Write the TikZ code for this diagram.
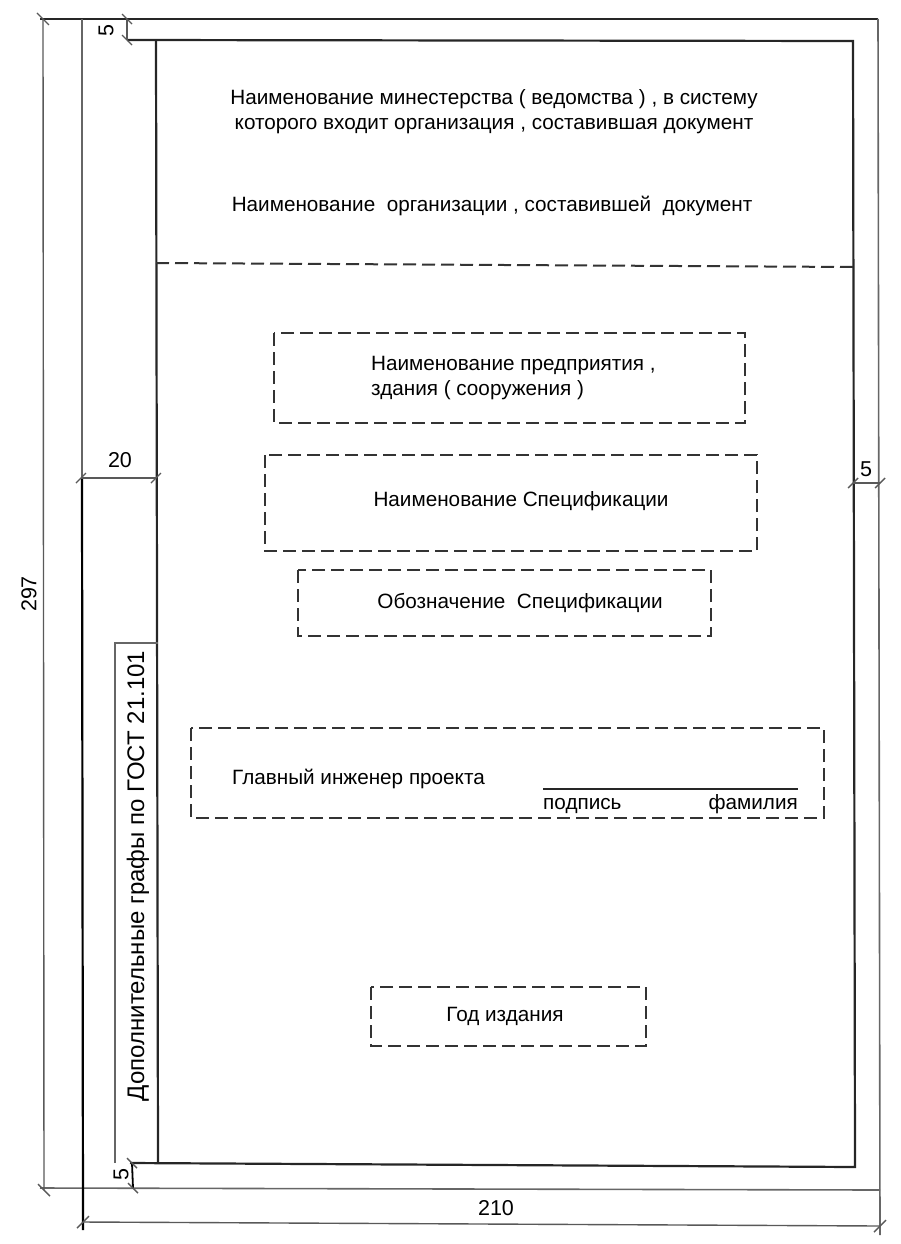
\documentclass[tikz,border=0pt]{standalone}
\usepackage{fontspec}
\setmainfont{Liberation Sans}
\begin{document}
\begin{tikzpicture}[x=1pt,y=-1pt,
  frame/.style={line width=2.2pt,black!85},
  thin/.style={line width=1.6pt,black!60},
  dim/.style={line width=1.4pt,black!65},
  dbox/.style={line width=2pt,black!80,dash pattern=on 13pt off 6pt},
  txt/.style={font=\fontsize{20.7}{25}\selectfont,inner sep=0pt},
  dimtxt/.style={font=\fontsize{21.5}{22}\selectfont,inner sep=0pt}]
\useasboundingbox (0,0) rectangle (900,1244);
% sheet edges
\draw[frame] (40,19) -- (878,19);
\draw[thin] (878,19) -- (880,1235);
\draw[thin] (40,1188) -- (880,1190);
\draw[thin] (82,19) -- (82,478);
\draw[frame,black] (82,478) -- (83,1230);
% inner frame
\draw[frame] (127,40) -- (853,41) -- (855,1167) -- (130,1163);
\draw[frame] (156,40) -- (158,1163);
% vertical text box
\draw[thin] (115,1163) -- (115,643) -- (158,643);
\node[font=\fontsize{24}{26}\selectfont,inner sep=0pt,rotate=90] (extra) at (138,876) {Дополнительные графы по ГОСТ 21.101};
% dimension 297
\draw[dim] (43,19) -- (44,1190);
\draw[dim] (37,13) -- (49,25);
\draw[dim] (38,1184) -- (50,1196);
\node[dimtxt,rotate=90] (d297) at (29,594) {297};
% dimension 210
\draw[dim] (83,1222) -- (880,1226);
\draw[dim] (77,1228) -- (89,1216);
\draw[dim] (874,1232) -- (886,1220);
\node[dimtxt] (d210) at (496,1208) {210};
% dimension 20
\draw[dim] (81,478) -- (156,478);
\draw[dim] (76,483) -- (86,473);
\draw[dim] (151,483) -- (161,473);
\node[dimtxt] (d20) at (120,460) {20};
% dimension 5 right
\draw[dim] (853,483) -- (880,483);
\draw[dim] (848,488) -- (858,478);
\draw[dim] (875,488) -- (885,478);
\node[dimtxt] (d5r) at (866,469) {5};
% dimension 5 top
\draw[dim] (127,19) -- (127,40);
\draw[dim] (122,14) -- (132,24);
\draw[dim] (122,35) -- (132,45);
\node[dimtxt,rotate=90] (d5t) at (106,31) {5};
% dimension 5 bottom
\draw[line width=1.8pt] (132,1163) -- (133,1188);
\draw[dim] (127,1158) -- (137,1168);
\draw[dim] (128,1183) -- (138,1193);
\node[dimtxt,rotate=90] (d5b) at (121,1175) {5};
% header texts
\node[txt,align=center] (ministry) at (494,112) {Наименование минестерства ( ведомства ) , в систему\\которого входит организация , составившая документ};
\node[txt] (org) at (492,206) {Наименование\ \ организации , составившей\ \ документ};
\draw[dbox] (156,263) -- (853,267);
% boxes
\draw[dbox] (274,333) rectangle (745,423);
\node[txt,align=left,anchor=west] (ent) at (371,378) {Наименование предприятия ,\\здания ( сооружения )};
\draw[dbox] (265,455) rectangle (757,551);
\node[txt] (spec) at (521,501) {Наименование Спецификации};
\draw[dbox] (298,570) rectangle (711,636);
\node[txt] (code) at (520,603) {Обозначение\ \ Спецификации};
\draw[dbox] (191,728) rectangle (824,818);
\node[txt,anchor=base west] (chief) at (232,784) {Главный инженер проекта};
\draw[line width=1.6pt,black!85] (543,789) -- (798,789);
\node[txt,anchor=base west] (sig) at (543,809) {подпись};
\node[txt,anchor=base east] (name) at (798,809) {фамилия};
\draw[dbox] (371,987) rectangle (646,1046);
\node[txt] (year) at (505,1016) {Год издания};
\end{tikzpicture}
\end{document}
